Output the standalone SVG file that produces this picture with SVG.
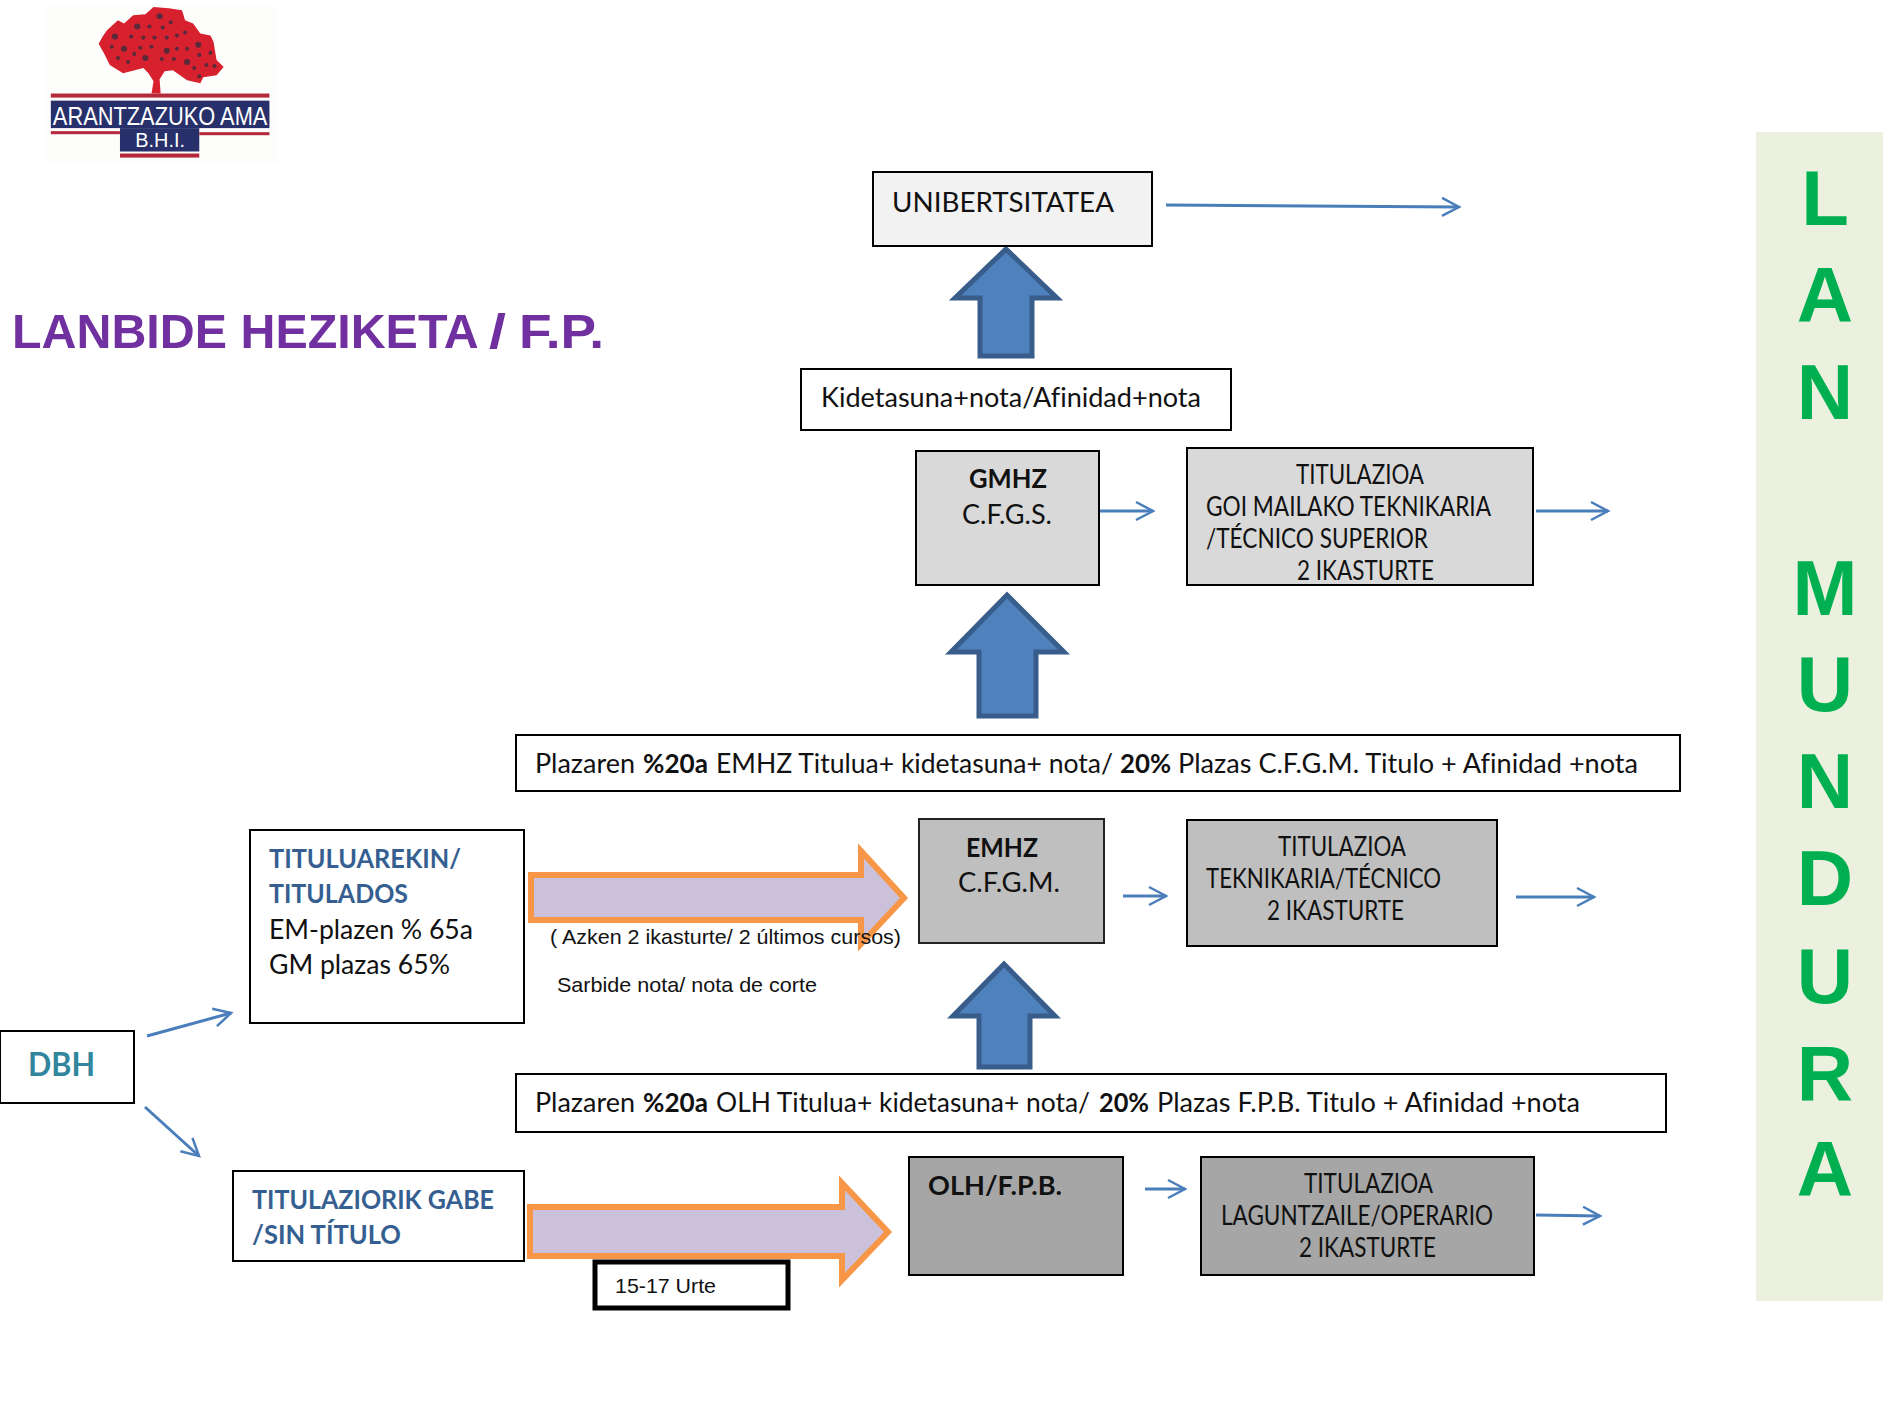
<svg xmlns="http://www.w3.org/2000/svg" width="1883" height="1411" viewBox="0 0 1883 1411">
<style>
text{font-family:"Lato","Carlito","Noto Sans",sans-serif;font-size:26px;fill:#111;font-variant-ligatures:none}
.b{font-weight:700}
.ar{font-family:"Liberation Sans",Arial,sans-serif;font-size:21px}
.blue{fill:#365f91;font-weight:700;font-size:27px}
.box{fill:#fff;stroke:#000;stroke-width:2}
.up{fill:#4f81bd;stroke:#385d8a;stroke-width:5}
.or{fill:#ccc1da;stroke:#f79646;stroke-width:6}
.thin{fill:none;stroke:#4a7ebb;stroke-width:3;marker-end:url(#open)}
.ln{font-family:"Liberation Sans",Arial,sans-serif;font-weight:700;font-size:78px;fill:#00b050;text-anchor:middle}
</style>
<defs>
<marker id="open" markerUnits="userSpaceOnUse" markerWidth="24" markerHeight="24" refX="18" refY="10" orient="auto" viewBox="0 0 24 20">
<path d="M1 1L18 10L1 19" fill="none" stroke="#4a7ebb" stroke-width="2.5"/>
</marker>
</defs>
<rect width="1883" height="1411" fill="#fff"/>
<g id="logo" transform="scale(1.0167)">
<rect x="43" y="5" width="230" height="156" fill="#fdfdfc"/>
<path d="M97 43L101 36L105 30L116 20L122 23L131 15L143 14L151 7L166 8L179 10L182 20L190 23L197 33L207 35L210 41L213 59L220 66L213 74L200 76L197 82L184 79L170 69L162 70L157 78L158 92H149L151 80L146 72L141 67L121 72L108 64L102 52Z" fill="#d8212f"/>
<g fill="#5a2a3a"><circle cx="113" cy="36" r="3"/><circle cx="135" cy="26" r="3"/><circle cx="157" cy="16" r="3"/><circle cx="168" cy="22" r="2"/><circle cx="147" cy="26" r="2"/><circle cx="160" cy="27" r="2"/><circle cx="182" cy="32" r="2"/><circle cx="129" cy="36" r="2"/><circle cx="141" cy="37" r="2"/><circle cx="152" cy="37" r="2"/><circle cx="164" cy="37" r="2"/><circle cx="174" cy="35" r="2"/><circle cx="195" cy="44" r="3"/><circle cx="110" cy="46" r="2"/><circle cx="122" cy="48" r="3"/><circle cx="138" cy="47" r="2"/><circle cx="149" cy="46" r="2"/><circle cx="164" cy="50" r="3"/><circle cx="174" cy="48" r="2"/><circle cx="184" cy="48" r="2"/><circle cx="196" cy="54" r="2"/><circle cx="207" cy="52" r="2"/><circle cx="116" cy="57" r="2"/><circle cx="132" cy="53" r="2"/><circle cx="143" cy="57" r="3"/><circle cx="159" cy="58" r="2"/><circle cx="171" cy="58" r="2"/><circle cx="184" cy="61" r="3"/><circle cx="126" cy="61" r="2"/><circle cx="191" cy="67" r="2"/><circle cx="203" cy="64" r="2"/><circle cx="211" cy="65" r="2"/><circle cx="196" cy="75" r="2"/></g>
<rect x="50" y="92" width="215" height="4" fill="#b52a3a"/>
<rect x="50" y="99" width="215" height="27" fill="#27306a"/>
<rect x="118" y="126" width="78" height="23" fill="#27306a"/>
<rect x="50" y="129" width="68" height="3" fill="#b52a3a"/>
<rect x="196" y="130" width="69" height="3" fill="#b52a3a"/>
<rect x="118" y="151" width="78" height="4" fill="#b52a3a"/>
<text x="52" y="123" textLength="211" lengthAdjust="spacingAndGlyphs" style="font-family:'Liberation Sans',sans-serif;font-size:26px;fill:#fff">ARANTZAZUKO AMA</text>
<text x="133" y="145" textLength="49" lengthAdjust="spacingAndGlyphs" style="font-family:'Liberation Sans',sans-serif;font-size:20px;fill:#fff">B.H.I.</text>
</g>
<text id="title" y="348" style="font-family:'Liberation Sans',sans-serif;font-weight:700;font-size:48px;fill:#7030a0"><tspan x="12" textLength="465" lengthAdjust="spacingAndGlyphs">LANBIDE HEZIKETA</tspan> <tspan x="489" textLength="17" lengthAdjust="spacingAndGlyphs">/</tspan> <tspan x="519" textLength="85" lengthAdjust="spacingAndGlyphs">F.P.</tspan></text>
<g id="lan-mundura">
<rect x="1756" y="132" width="127" height="1169" fill="#ebf1de"/>
<text class="ln" x="1825" y="225">L</text><text class="ln" x="1825" y="322">A</text><text class="ln" x="1825" y="419">N</text><text class="ln" x="1825" y="615">M</text><text class="ln" x="1825" y="711">U</text><text class="ln" x="1825" y="808">N</text><text class="ln" x="1825" y="905">D</text><text class="ln" x="1825" y="1003">U</text><text class="ln" x="1825" y="1100">R</text><text class="ln" x="1825" y="1196">A</text>
</g>
<g id="connectors">
<path class="up" d="M1006 249L1057 298H1032V356H980V298H955Z"/>
<path class="up" d="M1007 595L1064 652H1036V716H979V652H951Z"/>
<path class="up" d="M1004 964L1055 1016H1030V1067H979V1016H953Z"/>
<path class="or" d="M531 875H861V851L904 898L861 944V920H531Z"/>
<path class="or" d="M530 1207H842V1183L888 1232L842 1280V1256H530Z"/>
<path class="thin" d="M1166 205L1459 207"/>
<path class="thin" d="M1099 511H1153"/>
<path class="thin" d="M1536 511H1608"/>
<path class="thin" d="M1123 896H1166"/>
<path class="thin" d="M1516 897H1594"/>
<path class="thin" d="M1145 1189H1185"/>
<path class="thin" d="M1536 1215L1600 1216"/>
<path class="thin" d="M147 1036L231 1013"/>
<path class="thin" d="M145 1107L199 1156"/>
</g>
<g id="unibertsitatea"><rect x="873" y="172" width="279" height="74" fill="#f2f2f2" stroke="#000" stroke-width="2"/><text x="892" y="212" textLength="222" lengthAdjust="spacingAndGlyphs">UNIBERTSITATEA</text></g>
<g id="kidetasuna"><rect class="box" x="801" y="369" width="430" height="61"/><text x="821" y="407" textLength="380" lengthAdjust="spacingAndGlyphs">Kidetasuna+nota/Afinidad+nota</text></g>
<g id="gmhz"><rect x="916" y="451" width="183" height="134" fill="#d9d9d9" stroke="#000" stroke-width="2"/><text class="b" x="969" y="488" textLength="78" lengthAdjust="spacingAndGlyphs">GMHZ</text><text x="962" y="524" textLength="90" lengthAdjust="spacingAndGlyphs">C.F.G.S.</text></g>
<g id="titulazioa-gm"><rect x="1187" y="448" width="346" height="137" fill="#d9d9d9" stroke="#000" stroke-width="2"/><text x="1296" y="484" textLength="128" lengthAdjust="spacingAndGlyphs">TITULAZIOA</text><text x="1206" y="516" textLength="285" lengthAdjust="spacingAndGlyphs">GOI MAILAKO TEKNIKARIA</text><text x="1206" y="548" textLength="222" lengthAdjust="spacingAndGlyphs">/TÉCNICO SUPERIOR</text><text x="1297" y="580" textLength="137" lengthAdjust="spacingAndGlyphs">2 IKASTURTE</text></g>
<g id="plazaren-emhz"><rect class="box" x="516" y="735" width="1164" height="56"/><text y="773"><tspan x="535" textLength="100" lengthAdjust="spacingAndGlyphs">Plazaren</tspan> <tspan class="b" x="643" textLength="65" lengthAdjust="spacingAndGlyphs">%20a</tspan> <tspan x="716" textLength="397" lengthAdjust="spacingAndGlyphs">EMHZ Titulua+ kidetasuna+ nota/</tspan> <tspan class="b" x="1120" textLength="51" lengthAdjust="spacingAndGlyphs">20%</tspan> <tspan x="1178" textLength="460" lengthAdjust="spacingAndGlyphs">Plazas C.F.G.M. Titulo + Afinidad +nota</tspan></text></g>
<g id="titulados"><rect class="box" x="250" y="830" width="274" height="193"/><text class="blue" x="269" y="868" textLength="192" lengthAdjust="spacingAndGlyphs">TITULUAREKIN/</text><text class="blue" x="269" y="903" textLength="139" lengthAdjust="spacingAndGlyphs">TITULADOS</text><text x="269" y="939" textLength="204" lengthAdjust="spacingAndGlyphs">EM-plazen % 65a</text><text x="269" y="974" textLength="181" lengthAdjust="spacingAndGlyphs">GM plazas 65%</text></g>
<text class="ar" x="550" y="944" textLength="351" lengthAdjust="spacingAndGlyphs">( Azken 2 ikasturte/ 2 últimos cursos)</text>
<text class="ar" x="557" y="992" textLength="260" lengthAdjust="spacingAndGlyphs">Sarbide nota/ nota de corte</text>
<g id="emhz"><rect x="919" y="819" width="185" height="124" fill="#bfbfbf" stroke="#222" stroke-width="2"/><text class="b" x="966" y="857" textLength="72" lengthAdjust="spacingAndGlyphs">EMHZ</text><text x="958" y="892" textLength="102" lengthAdjust="spacingAndGlyphs">C.F.G.M.</text></g>
<g id="titulazioa-em"><rect x="1187" y="820" width="310" height="126" fill="#bfbfbf" stroke="#000" stroke-width="2"/><text x="1278" y="856" textLength="128" lengthAdjust="spacingAndGlyphs">TITULAZIOA</text><text x="1206" y="888" textLength="235" lengthAdjust="spacingAndGlyphs">TEKNIKARIA/TÉCNICO</text><text x="1267" y="920" textLength="137" lengthAdjust="spacingAndGlyphs">2 IKASTURTE</text></g>
<g id="dbh"><rect class="box" x="0" y="1031" width="134" height="72"/><text class="b" x="28" y="1076" textLength="67" lengthAdjust="spacingAndGlyphs" style="font-size:32px;fill:#31859c">DBH</text></g>
<g id="plazaren-olh"><rect class="box" x="516" y="1074" width="1150" height="58"/><text y="1112"><tspan x="535" textLength="100" lengthAdjust="spacingAndGlyphs">Plazaren</tspan> <tspan class="b" x="643" textLength="65" lengthAdjust="spacingAndGlyphs">%20a</tspan> <tspan x="716" textLength="374" lengthAdjust="spacingAndGlyphs">OLH Titulua+ kidetasuna+ nota/</tspan> <tspan class="b" x="1099" textLength="50" lengthAdjust="spacingAndGlyphs">20%</tspan> <tspan x="1157" textLength="423" lengthAdjust="spacingAndGlyphs">Plazas F.P.B. Titulo + Afinidad +nota</tspan></text></g>
<g id="titulaziorik-gabe"><rect class="box" x="233" y="1171" width="291" height="90"/><text class="blue" x="252" y="1209" textLength="242" lengthAdjust="spacingAndGlyphs">TITULAZIORIK GABE</text><text class="blue" x="252" y="1244" textLength="149" lengthAdjust="spacingAndGlyphs">/SIN TÍTULO</text></g>
<g id="olh"><rect x="909" y="1157" width="214" height="118" fill="#a6a6a6" stroke="#000" stroke-width="2"/><text class="b" x="928" y="1195" textLength="134" lengthAdjust="spacingAndGlyphs">OLH/F.P.B.</text></g>
<g id="titulazioa-olh"><rect x="1201" y="1157" width="333" height="118" fill="#a6a6a6" stroke="#000" stroke-width="2"/><text x="1304" y="1193" textLength="129" lengthAdjust="spacingAndGlyphs">TITULAZIOA</text><text x="1221" y="1225" textLength="272" lengthAdjust="spacingAndGlyphs">LAGUNTZAILE/OPERARIO</text><text x="1299" y="1257" textLength="137" lengthAdjust="spacingAndGlyphs">2 IKASTURTE</text></g>
<g id="urte"><rect x="595" y="1262" width="193" height="46" fill="#fff" stroke="#000" stroke-width="5"/><text class="ar" x="615" y="1293" textLength="101" lengthAdjust="spacingAndGlyphs">15-17 Urte</text></g>
</svg>
